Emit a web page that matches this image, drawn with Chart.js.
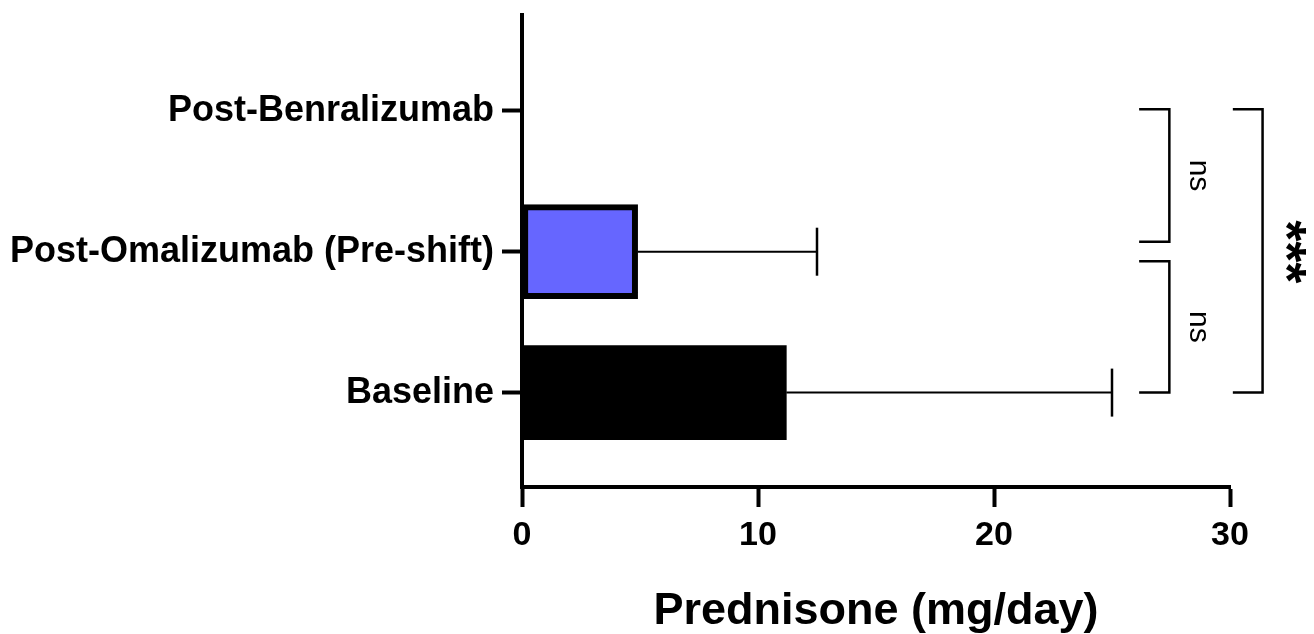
<!DOCTYPE html>
<html>
<head>
<meta charset="utf-8">
<style>
  html, body { margin: 0; padding: 0; background: #ffffff; }
  #wrap { width: 1314px; height: 634px; }
</style>
<script src="https://cdn.jsdelivr.net/npm/chart.js@4/dist/chart.umd.min.js"></script>
</head>
<body>
<div id="wrap"><canvas id="c" width="1314" height="634"></canvas></div>
<script>
// ---- data ----
const categories = ['Post-Benralizumab', 'Post-Omalizumab (Pre-shift)', 'Baseline'];
const means = [0, 4.9, 11.2];
const sdUpper = [0, 7.6, 13.8];
const barColors = ['#000000', '#6666FF', '#000000'];
const xTicks = [0, 10, 20, 30];
const comparisons = [
  { a: 0, b: 1, label: 'ns' },
  { a: 1, b: 2, label: 'ns' },
  { a: 0, b: 2, label: '***' }
];
const axisTitle = 'Prednisone (mg/day)';

const FONT = "'Liberation Sans', Arial, Helvetica, sans-serif";

const errorBarPlugin = {
  id: 'errorBars',
  afterDatasetsDraw(chart) {
    const ctx = chart.ctx;
    const xs = chart.scales.x, ys = chart.scales.y;
    ctx.save();
    ctx.strokeStyle = '#000';
    means.forEach((m, i) => {
      if (!sdUpper[i]) return;
      const x0 = xs.getPixelForValue(m);
      const x1 = xs.getPixelForValue(m + sdUpper[i]);
      const y = ys.getPixelForValue(i);
      ctx.lineWidth = 2;
      ctx.beginPath();
      ctx.moveTo(x0, y);
      ctx.lineTo(x1, y);
      ctx.stroke();
      ctx.lineWidth = 2.5;
      ctx.beginPath();
      ctx.moveTo(x1, y - 24);
      ctx.lineTo(x1, y + 24);
      ctx.stroke();
    });
    ctx.restore();
  }
};

const sigPlugin = {
  id: 'significance',
  afterDraw(chart) {
    const ctx = chart.ctx;
    const xs = chart.scales.x, ys = chart.scales.y;
    ctx.save();
    ctx.strokeStyle = '#000';
    ctx.fillStyle = '#000';
    ctx.lineWidth = 2.5;
    comparisons.forEach((c) => {
      const outer = (c.b - c.a) > 1;
      const xa = xs.getPixelForValue(outer ? 30.12 : 26.15);
      const xb = xs.getPixelForValue(outer ? 31.38 : 27.43);
      let ya = ys.getPixelForValue(c.a);
      let yb = ys.getPixelForValue(c.b);
      if (!outer) {
        if (c.a === 1) ya += 9.5; else ya -= 1.5;
        if (c.b === 1) yb -= 10;
      } else {
        ya -= 1.5;
      }
      ctx.beginPath();
      ctx.moveTo(xa, ya);
      ctx.lineTo(xb, ya);
      ctx.lineTo(xb, yb);
      ctx.lineTo(xa, yb);
      ctx.stroke();
      const tx = xs.getPixelForValue(outer ? 32.67 : 28.64);
      const ty = (ys.getPixelForValue(c.a) + ys.getPixelForValue(c.b)) / 2;
      ctx.save();
      ctx.translate(tx, outer ? ty : (ya + yb) / 2);
      ctx.rotate(Math.PI / 2);
      ctx.textAlign = 'center';
      ctx.textBaseline = 'middle';
      ctx.font = outer ? ('bold 54px ' + FONT) : ('30px ' + FONT);
      ctx.fillText(c.label, 0, outer ? 9 : 0);
      ctx.restore();
    });
    ctx.restore();
  }
};

new Chart(document.getElementById('c'), {
  type: 'bar',
  data: {
    datasets: [{
      data: means.map((v, i) => ({ x: v, y: i })),
      backgroundColor: barColors,
      borderColor: '#000000',
      borderWidth: means.map((v, i) => (i === 1 ? 6 : 0)),
      borderSkipped: false,
      barThickness: 94
    }]
  },
  options: {
    indexAxis: 'y',
    responsive: false,
    animation: false,
    devicePixelRatio: 1,
    layout: { padding: { top: 15, right: 84, left: 0, bottom: 0 } },
    plugins: { legend: { display: false }, tooltip: { enabled: false } },
    scales: {
      x: {
        type: 'linear',
        position: 'bottom',
        min: 0,
        max: 30,
        offset: false,
        afterBuildTicks: (s) => { s.ticks = xTicks.map(v => ({ value: v })); },
        afterFit: (s) => { s.height = 147; },
        grid: { drawOnChartArea: false, offset: false, tickLength: 20, tickWidth: 4, tickColor: '#000' },
        border: { display: true, width: 4, color: '#000' },
        ticks: {
          color: '#000', padding: 8,
          font: { family: FONT, size: 34, weight: 'bold', lineHeight: 1.2 },
          maxRotation: 0
        },
        title: {
          display: true, text: axisTitle, color: '#000',
          font: { family: FONT, size: 45, weight: 'bold', lineHeight: 1.0 },
          padding: { top: 0, bottom: 0 }
        }
      },
      y: {
        type: 'linear',
        position: 'left',
        reverse: true,
        min: -0.68,
        max: 2.67,
        offset: false,
        afterBuildTicks: (s) => { s.ticks = categories.map((_, i) => ({ value: i })); },
        afterFit: (s) => { s.width = 522; s.paddingTop = 0; s.paddingBottom = 0; },
        grid: { drawOnChartArea: false, offset: false, tickLength: 20, tickWidth: 4, tickColor: '#000' },
        border: { display: true, width: 4, color: '#000' },
        ticks: {
          color: '#000', padding: 8,
          font: { family: FONT, size: 36, weight: 'bold' },
          callback: (v) => categories[v]
        }
      }
    }
  },
  plugins: [errorBarPlugin, sigPlugin]
});
</script>
</body>
</html>
